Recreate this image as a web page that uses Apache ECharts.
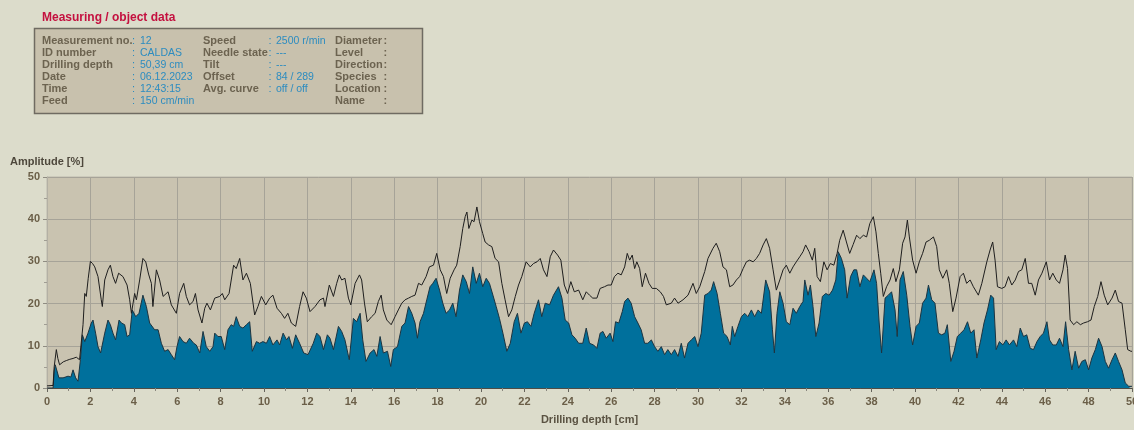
<!DOCTYPE html>
<html>
<head>
<meta charset="utf-8">
<script src="https://cdn.jsdelivr.net/npm/echarts@6/dist/echarts.min.js"></script>
<style>
  html, body { margin: 0; padding: 0; background: #dcdccb; }
  #chart { width: 1134px; height: 430px; }
</style>
</head>
<body>
<div id="chart"></div>
<script>
// Drilling resistance profile: upper curve (total amplitude) and lower filled curve
const upperDepth = [0,0.28,0.33,0.43,0.5,0.58,0.75,0.89,1.05,1.2,1.35,1.5,1.58,1.66,1.74,1.81,1.9,2.0,2.1,2.2,2.35,2.5,2.55,2.66,2.81,2.92,3.04,3.16,3.3,3.5,3.69,3.81,3.89,4.04,4.12,4.27,4.42,4.55,4.68,4.81,4.88,5.04,5.19,5.35,5.58,5.73,5.96,6.11,6.3,6.42,6.57,6.73,6.84,6.96,7.14,7.27,7.37,7.53,7.73,7.96,8.08,8.19,8.39,8.6,8.72,8.88,9.03,9.19,9.37,9.57,9.72,9.88,10.08,10.26,10.41,10.6,10.8,10.95,11.1,11.26,11.46,11.64,11.8,11.95,12.12,12.35,12.58,12.74,12.81,13.01,13.2,13.35,13.47,13.58,13.73,13.89,14.0,14.2,14.4,14.5,14.63,14.76,14.96,15.12,15.27,15.4,15.5,15.66,15.86,16.04,16.19,16.35,16.5,16.66,16.81,16.96,17.12,17.27,17.47,17.62,17.81,17.96,18.12,18.27,18.42,18.58,18.76,18.88,19.04,19.16,19.27,19.35,19.44,19.58,19.68,19.81,19.93,20.08,20.19,20.35,20.5,20.65,20.81,20.96,21.11,21.27,21.42,21.58,21.73,21.88,22.08,22.27,22.42,22.58,22.73,22.88,23.04,23.19,23.34,23.53,23.68,23.84,23.99,24.14,24.3,24.5,24.69,24.85,25.0,25.15,25.34,25.49,25.69,25.85,26.0,26.15,26.31,26.46,26.62,26.74,26.85,26.97,27.08,27.18,27.31,27.43,27.58,27.74,27.89,28.08,28.26,28.41,28.54,28.77,28.92,29.08,29.31,29.54,29.77,29.92,30.08,30.31,30.46,30.69,30.84,31.0,31.15,31.31,31.46,31.61,31.77,31.92,32.08,32.23,32.38,32.54,32.69,32.84,33.0,33.15,33.3,33.46,33.61,33.77,33.92,34.07,34.23,34.38,34.53,34.69,34.84,34.96,35.12,35.27,35.38,35.49,35.64,35.8,35.95,36.1,36.26,36.41,36.53,36.69,36.84,36.99,37.15,37.31,37.46,37.62,37.77,37.92,38.08,38.2,38.31,38.42,38.54,38.69,38.85,39.0,39.12,39.28,39.43,39.54,39.65,39.74,39.89,40.05,40.2,40.35,40.51,40.66,40.85,41.0,41.12,41.28,41.46,41.58,41.74,41.89,42.08,42.23,42.38,42.54,42.69,42.92,43.08,43.31,43.46,43.58,43.69,43.8,44.0,44.15,44.31,44.46,44.62,44.77,44.92,45.08,45.23,45.38,45.54,45.69,45.85,46.05,46.2,46.35,46.51,46.66,46.82,46.92,47.03,47.15,47.31,47.46,47.62,47.77,47.95,48.11,48.26,48.42,48.57,48.72,48.88,49.08,49.23,49.38,49.54,49.69,49.8,49.95,50];
const upperAmp = [0.5,0.6,5,9.1,7,5.5,6.2,6.5,6.8,7.0,7.3,6.7,7,15,22.4,21.7,26,30,29.5,28.7,26.4,20.9,19.3,25.6,28,29.1,26.4,24.8,27.2,26.4,24.4,20.9,17.7,22.4,20.9,25.6,30.7,29.9,27,24.8,19.3,28,25.6,21.7,22.8,19.7,17.7,22.4,24.8,21.7,19.7,20.5,22.4,18.5,15.4,18.9,20.1,18.5,21.3,21.7,22.4,20.9,22.4,29.1,28.3,30.7,25.6,27.2,24.8,17.3,19.3,21.7,19.7,21.3,22,18.9,17.7,16.5,17.7,15.4,14.6,19.3,22.8,21.3,18.1,19.3,20.9,21.3,19.3,24.4,21.7,24.8,26.8,25.6,26,21.3,19.7,24.8,26.8,25.6,20.1,15.7,16.9,17.7,20.5,22,18.5,16.1,15,16.9,18.5,20.1,20.9,21.3,21.7,22,24.8,24.4,26.4,28.7,29.1,31.9,28,26.4,22.4,26,28,29.1,33.5,37.8,40.6,41.7,37.8,39.8,39.4,42.9,39.4,36.6,34.6,33.9,33.5,30.7,29.9,24.8,20.9,16.9,18.5,21.7,24.4,26.4,29.9,28.7,29.5,29.9,30.7,28,26.4,31.1,32.7,31.5,30.3,24.4,22.4,25.2,22.8,23.2,20.9,22.8,22,21.3,21.3,23.6,24,24.4,24.4,26.4,27.2,26.8,28.7,31.9,30.3,31.5,28.3,29.9,28.3,24,27.2,24.8,23.6,23.6,22.8,21.7,19.7,20.1,21.3,20.1,20.9,22,24.8,22.4,24,27.6,30.7,33.1,34.3,32.3,28.7,28,24,24.4,25.6,26.4,28.3,29.9,30.3,29.9,30.7,31.9,33.9,35.4,33.1,28,23.2,25.6,28,29.1,27.2,28.7,29.9,31.1,32.3,33.9,32.3,30.3,33.1,26.4,25.2,29.9,28,29.5,29.1,31.9,35,37.4,34.6,31.9,34,36.2,35.4,36.2,35.8,39,40.6,37,31.9,27.2,21.7,24,25.6,28.3,25.2,28,34.3,35.8,39.8,35.8,30.3,27.2,29.9,31.9,34.6,35,35.8,33.5,28,26,28,24.8,18.1,21.3,26.4,27.2,24.8,25.6,24,22,24.8,29.9,32.7,34.6,30.3,24,23.6,24,26.4,24.4,25.6,27.6,28,30.7,24.8,24.8,22,25.6,27.2,29.9,25.6,27.2,25.6,24.8,28,31.5,28.3,16.1,15,15.7,15,15.4,15.7,16.1,19.3,21.7,25.2,22,19.7,21.3,23.2,20.5,20.1,13.8,9.1,8.7,8.7];

const lowerDepth = [0,0.28,0.33,0.38,0.46,0.55,0.74,0.97,1.1,1.2,1.32,1.43,1.54,1.63,1.74,1.89,2.04,2.12,2.24,2.35,2.47,2.66,2.81,2.92,3.04,3.16,3.32,3.43,3.58,3.69,3.81,3.93,4.09,4.24,4.42,4.58,4.73,4.96,5.12,5.27,5.42,5.58,5.73,5.88,5.99,6.11,6.27,6.42,6.57,6.76,6.88,7.04,7.19,7.34,7.5,7.65,7.73,7.88,8.03,8.19,8.34,8.49,8.6,8.72,8.88,9.03,9.19,9.34,9.46,9.65,9.8,9.95,10.11,10.26,10.41,10.6,10.72,10.88,11.04,11.15,11.31,11.46,11.64,11.83,12.03,12.12,12.27,12.43,12.58,12.74,12.92,13.04,13.2,13.43,13.58,13.73,13.93,14.12,14.27,14.43,14.55,14.7,14.89,15.07,15.2,15.35,15.5,15.69,15.84,15.96,16.15,16.35,16.5,16.66,16.81,16.96,17.07,17.19,17.35,17.5,17.65,17.78,17.93,18.09,18.24,18.39,18.55,18.7,18.85,19.01,19.16,19.32,19.47,19.62,19.78,19.93,20.08,20.24,20.39,20.55,20.7,20.85,21.01,21.19,21.35,21.53,21.68,21.84,22.0,22.14,22.3,22.45,22.65,22.8,22.96,23.16,23.34,23.57,23.73,23.88,24.04,24.19,24.34,24.5,24.69,24.85,25.0,25.19,25.34,25.49,25.62,25.77,25.95,26.08,26.2,26.35,26.51,26.62,26.77,26.92,27.08,27.23,27.38,27.54,27.69,27.85,28.0,28.15,28.31,28.46,28.61,28.77,28.92,29.08,29.23,29.38,29.54,29.69,29.85,30.0,30.15,30.31,30.46,30.61,30.72,30.88,31.03,31.18,31.34,31.49,31.58,31.69,31.84,32.0,32.15,32.3,32.46,32.61,32.77,32.92,33.12,33.3,33.43,33.52,33.64,33.77,33.92,34.07,34.23,34.38,34.53,34.69,34.84,34.92,35.07,35.18,35.3,35.43,35.58,35.73,35.89,36.04,36.2,36.35,36.46,36.61,36.76,36.87,37.03,37.18,37.31,37.46,37.62,37.77,37.92,38.11,38.23,38.35,38.46,38.62,38.77,38.92,39.08,39.18,39.31,39.46,39.62,39.77,39.89,40.05,40.2,40.35,40.51,40.62,40.77,40.92,41.08,41.23,41.38,41.49,41.65,41.8,41.95,42.11,42.26,42.42,42.57,42.72,42.85,43.03,43.18,43.34,43.49,43.62,43.74,43.89,44.05,44.2,44.35,44.54,44.69,44.85,45.0,45.15,45.31,45.46,45.62,45.77,45.92,46.08,46.2,46.35,46.51,46.66,46.82,46.94,47.08,47.23,47.38,47.54,47.69,47.85,48.0,48.15,48.31,48.46,48.62,48.77,48.92,49.08,49.23,49.38,49.54,49.69,49.85,50];
const lowerAmp = [0,0,4,5.5,5.1,2.4,2.4,2.8,2.6,4.3,2.4,1.6,6.7,12.6,11,13,15.4,16.1,13,9.8,8.3,13,16.1,15,13,11.4,16.1,15.4,15,12.2,12.6,18.5,16.9,17.7,22,19.3,15.4,13.8,13.8,10.6,8.7,9.1,7.9,6.7,9.8,12.2,11,10.6,11.8,10.6,10.2,8.3,13.4,9.8,8.7,9.8,13,12.2,12.2,9.1,13.8,15,14.6,16.9,14.6,14.2,15,15.7,8.7,11,10.6,11,10.6,12.2,10.2,11.4,10.2,13,11.4,12.2,9.4,12.6,10.6,8.3,7.9,7.5,10.6,13,12.2,9.1,12.6,11.8,9.1,14.6,13.4,11.4,6.7,16.5,15.7,17.7,11.4,6.3,8.3,9.1,7.5,12.2,8.3,8.7,5.1,9.1,9.8,14.6,15.4,19.3,17.7,15.4,11.8,15.7,17.7,20.9,24,24.8,26,23.2,20.1,17.7,18.5,20.1,16.9,23.2,26.8,25.2,22.4,28.7,24.8,27.2,24,26,24.8,22,19.3,16.5,13,8.7,10.6,15.7,17.7,13,15.4,15.7,14.6,17.7,20.9,16.9,20.1,19.7,22,24,21.3,16.1,15.4,12.6,11.8,10.6,10.6,14.2,10.6,10.2,9.4,13,13.4,11.8,13,11,15.7,15.4,18.1,20.5,21.3,20.1,16.9,15.4,13.8,10.6,10.6,11.4,9.8,8.7,9.8,7.9,9.1,7.9,9.1,7.5,10.6,7.1,10.6,11.4,12.2,9.8,13,22,22.4,23.2,25.2,22.4,17.7,13,12.2,10.2,14.6,12.2,14.6,16.9,17.7,16.9,18.5,16.9,18.5,17.7,25.6,22.8,13.8,8.3,17.7,22.8,20.1,15.7,15,18.9,17.7,19.3,20.5,25.6,22,24.4,19.3,12.2,15.4,21.7,22.4,22,23.2,25.6,32.3,30.7,28,21.3,26.4,28,28,24,26.8,26,25.2,28,24.8,15.4,8.3,21.3,22,22.8,18.5,12.2,25.6,27.6,22,14.6,10.2,14.6,15.4,20.1,21.3,24.4,20.9,20.1,13,12.6,13,15,6.3,8.7,12.2,13,13.8,15.7,13,13.8,7.1,11.4,15.4,18.5,22,21.3,9.1,11,10.2,11.4,10.2,11.4,9.8,14.2,12.2,12.6,9.4,9.1,11,12.2,13,15.7,11.4,10.2,10.2,11.8,9.8,15.7,9.1,4.3,8.7,4.7,6.3,6.7,4.3,7.1,9.1,11.8,9.8,6.3,4.7,6.7,8.3,6.3,4.3,1.2,0.4,0.4];

// Header panel text
const infoTitle = 'Measuring / object data';
const col1Labels = ['Measurement no.', 'ID number', 'Drilling depth', 'Date', 'Time', 'Feed'];
const col1Values = ['12', 'CALDAS', '50,39 cm', '06.12.2023', '12:43:15', '150 cm/min'];
const col2Labels = ['Speed', 'Needle state', 'Tilt', 'Offset', 'Avg. curve'];
const col2Values = ['2500 r/min', '---', '---', '84 / 289', 'off / off'];
const col3Labels = ['Diameter', 'Level', 'Direction', 'Species', 'Location', 'Name'];

const xTicks = { min: 0, max: 50, step: 2 };
const yTicks = { min: 0, max: 50, step: 10 };

const FONT = '"Liberation Sans", Arial, sans-serif';
const LABEL_COLOR = '#6c6350';
const VALUE_COLOR = '#2c8cc0';
const AXIS_TEXT = '#6b5f48';

function pairs(xs, ys) { return xs.map((x, i) => [x, ys[i]]); }

const graphics = [];
graphics.push({
  type: 'text', x: 42, y: 18,
  style: { text: infoTitle, font: 'bold 12px ' + FONT, fill: '#c4103f', verticalAlign: 'middle' }
});
graphics.push({
  type: 'rect', shape: { x: 34.5, y: 28.5, width: 388, height: 85 },
  style: { fill: '#c8c1ad', stroke: '#6f6b62', lineWidth: 1.5 }
});
// vertical centres of the six rows
const rowY = [40.5, 52.5, 64.5, 76.5, 88.5, 100.5];
function addText(txt, x, y, color, bold, size) {
  graphics.push({
    type: 'text', x: x, y: y,
    style: { text: txt, font: (bold ? 'bold ' : '') + (size || 11) + 'px ' + FONT, fill: color, verticalAlign: 'middle' }
  });
}
col1Labels.forEach((t, i) => {
  addText(t, 42, rowY[i], LABEL_COLOR, true);
  addText(':', 132, rowY[i], VALUE_COLOR, false);
  addText(col1Values[i], 140, rowY[i] + 0.7, VALUE_COLOR, false, 10.5);
});
col2Labels.forEach((t, i) => {
  addText(t, 203, rowY[i], LABEL_COLOR, true);
  addText(':', 268.5, rowY[i], VALUE_COLOR, false);
  addText(col2Values[i], 276, rowY[i] + 0.7, VALUE_COLOR, false, 10.5);
});
col3Labels.forEach((t, i) => {
  addText(t, 335, rowY[i], LABEL_COLOR, true);
  addText(':', 383.5, rowY[i], LABEL_COLOR, true);
});
graphics.push({
  type: 'text', x: 10, y: 162,
  style: { text: 'Amplitude [%]', font: 'bold 11px ' + FONT, fill: '#4e483c', verticalAlign: 'middle' }
});

const chart = echarts.init(document.getElementById('chart'), null, { renderer: 'canvas' });
chart.setOption({
  backgroundColor: '#dcdccb',
  animation: false,
  grid: {
    left: 47, right: 2, top: 177, bottom: 42,
    containLabel: false, outerBoundsMode: 'none',
    show: true, backgroundColor: '#c9c3b0', borderColor: '#bdb9ab', borderWidth: 1
  },
  xAxis: {
    type: 'value', min: xTicks.min, max: xTicks.max, interval: xTicks.step,
    axisLine: { show: true, onZero: false, lineStyle: { color: '#4d4c46', width: 1 } },
    axisTick: { show: true, length: 4, lineStyle: { color: '#66645c' } },
    minorTick: { show: true, splitNumber: 2, length: 3, lineStyle: { color: '#8a877e' } },
    splitLine: { show: true, lineStyle: { color: '#a6a398', width: 1 } },
    axisLabel: { color: AXIS_TEXT, fontWeight: 'bold', fontSize: 11, fontFamily: FONT, margin: 8 },
    name: 'Drilling depth [cm]', nameLocation: 'middle', nameGap: 26,
    nameTextStyle: { color: '#5a5242', fontWeight: 'bold', fontSize: 11, fontFamily: FONT }
  },
  yAxis: {
    type: 'value', min: yTicks.min, max: yTicks.max, interval: yTicks.step,
    axisLine: { show: true, lineStyle: { color: '#b3b0a4', width: 1 } },
    axisTick: { show: true, length: 4, lineStyle: { color: '#8f8c82' } },
    minorTick: { show: true, splitNumber: 2, length: 3, lineStyle: { color: '#a09d93' } },
    splitLine: { show: true, lineStyle: { color: '#a6a398', width: 1 } },
    axisLabel: { color: AXIS_TEXT, fontWeight: 'bold', fontSize: 11, fontFamily: FONT, margin: 7 }
  },
  graphic: graphics,
  series: [
    {
      name: 'Feed amplitude', type: 'line', data: pairs(lowerDepth, lowerAmp),
      showSymbol: false, symbol: 'none', smooth: false,
      lineStyle: { color: '#1d3440', width: 1 },
      areaStyle: { color: '#00709c', opacity: 1 },
      z: 2
    },
    {
      name: 'Drilling amplitude', type: 'line', data: pairs(upperDepth, upperAmp),
      showSymbol: false, symbol: 'none', smooth: false,
      lineStyle: { color: '#1e1e1e', width: 1 },
      z: 3
    }
  ]
});
</script>
</body>
</html>
